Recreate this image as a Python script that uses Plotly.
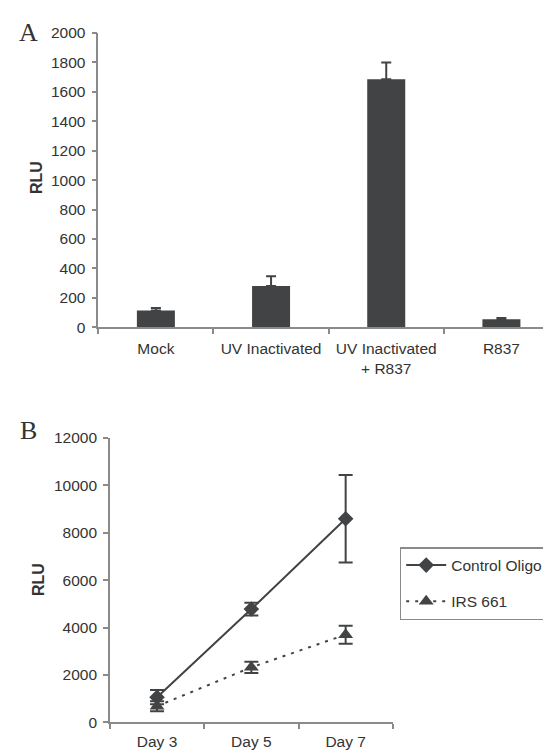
import plotly.graph_objects as go

# Panel A data
a_categories = ["Mock", "UV Inactivated", "UV Inactivated<br>+ R837", "R837"]
a_values = [115, 281, 1685, 54]
a_errors = [16, 66, 115, 9]
a_yticks = [0, 200, 400, 600, 800, 1000, 1200, 1400, 1600, 1800, 2000]

# Panel B data
b_days = ["Day 3", "Day 5", "Day 7"]
control_values = [1060, 4780, 8590]
control_errors = [300, 270, 1850]
irs_values = [680, 2320, 3700]
irs_errors = [210, 240, 380]
b_yticks = [0, 2000, 4000, 6000, 8000, 10000, 12000]

FONT = "Liberation Sans, Arial, sans-serif"
TXT = "#333333"
AX = "#8a8a8a"
DARK = "#424345"
FS = 15.5

fig = go.Figure()

fig.add_trace(go.Bar(
    x=a_categories, y=a_values,
    error_y=dict(type="data", array=a_errors, arrayminus=[0]*len(a_errors),
                 symmetric=False, color=DARK, thickness=2, width=5),
    marker=dict(color=DARK, line=dict(width=0)),
    xaxis="x", yaxis="y", showlegend=False,
))

fig.add_trace(go.Scatter(
    x=b_days, y=control_values, name="Control Oligo",
    mode="lines+markers",
    line=dict(color=DARK, width=2),
    marker=dict(symbol="diamond", size=12, color=DARK),
    error_y=dict(type="data", array=control_errors, color=DARK, thickness=2, width=7),
    xaxis="x2", yaxis="y2", legendgroup="c",
))
fig.add_trace(go.Scatter(
    x=b_days, y=irs_values, name="IRS 661",
    mode="lines+markers",
    line=dict(color=DARK, width=2, dash="3px,6px"),
    marker=dict(symbol="triangle-up", size=13, color=DARK),
    error_y=dict(type="data", array=irs_errors, color=DARK, thickness=2, width=7),
    xaxis="x2", yaxis="y2", legendgroup="i",
))

axis_common = dict(
    showgrid=False, zeroline=False, showline=True, linecolor=AX, linewidth=1.5,
    ticks="outside", ticklen=5, tickcolor=AX, tickwidth=1.5, automargin=False,
    tickfont=dict(family=FONT, size=FS, color=TXT),
)

W, H = 551, 751
fig.update_layout(
    width=W, height=H,
    margin=dict(l=0, r=0, t=0, b=0, autoexpand=False),
    paper_bgcolor="white", plot_bgcolor="white",
    bargap=0.67,
    xaxis=dict(domain=[90.3/W, 1.0], range=[-0.5, 3.5], type="category",
               tickson="boundaries", anchor="y", tickangle=0, ticklabelstandoff=6, **axis_common),
    yaxis=dict(domain=[(H-319.3)/H, (H-25)/H], range=[0, 2000], tickvals=a_yticks,
               tickformat="d", anchor="x", ticklabelstandoff=3, **axis_common),
    xaxis2=dict(domain=[101.9/W, 384.8/W], range=[-0.5, 2.5], type="category",
                tickson="boundaries", anchor="y2", tickangle=0, ticklabelstandoff=4, **axis_common),
    yaxis2=dict(domain=[(H-714.3)/H, (H-430)/H], range=[0, 12000], tickvals=b_yticks,
                tickformat="d", anchor="x2", ticklabelstandoff=3, **axis_common),
    legend=dict(x=391.7/W, y=(H-539)/H, xanchor="left", yanchor="top",
                bordercolor=AX, borderwidth=1.5, bgcolor="white",
                font=dict(family=FONT, size=FS, color=TXT),
                traceorder="grouped", tracegroupgap=13, itemwidth=40),
    showlegend=True,
)

ann = [
    dict(text="A", x=20/W, y=(H-25)/H, font=dict(family="Liberation Serif, Times New Roman, serif", size=26, color=TXT)),
    dict(text="B", x=20/W, y=(H-422)/H, font=dict(family="Liberation Serif, Times New Roman, serif", size=26, color=TXT)),
    dict(text="<b>RLU</b>", x=28/W, y=(H-170)/H, textangle=-90, font=dict(family=FONT, size=16, color=TXT)),
    dict(text="<b>RLU</b>", x=30/W, y=(H-572)/H, textangle=-90, font=dict(family=FONT, size=16, color=TXT)),
]
for a in ann:
    a.update(xref="paper", yref="paper", showarrow=False, xanchor="center", yanchor="middle")
fig.update_layout(annotations=ann)

fig.write_html("out.html")
